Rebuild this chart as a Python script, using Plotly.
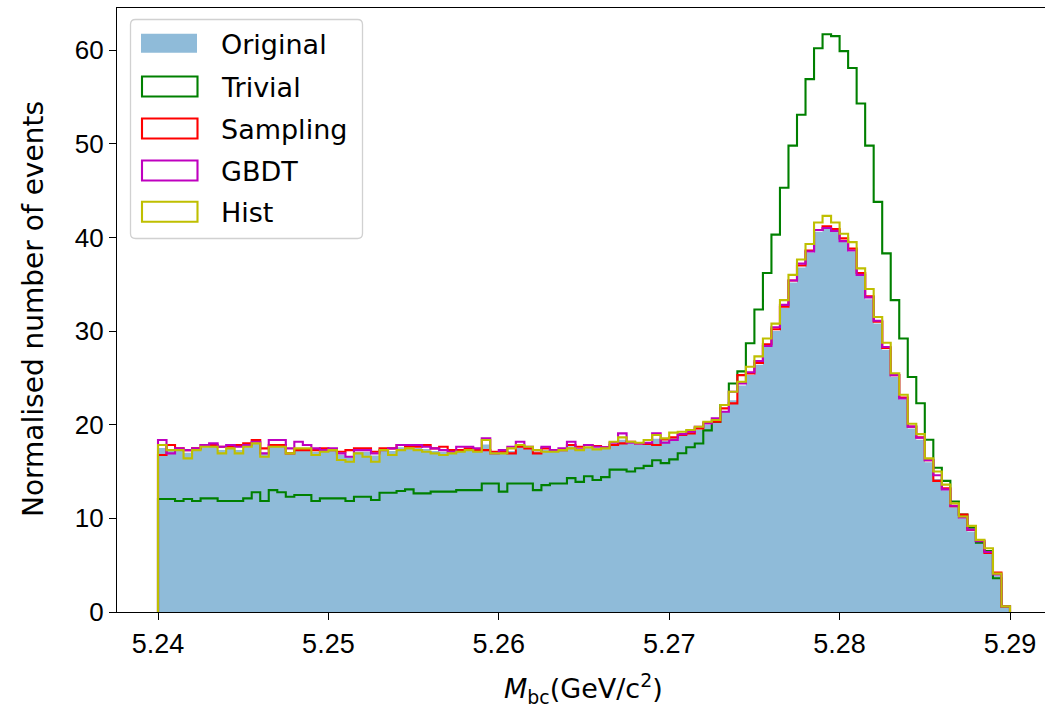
import numpy as np
import plotly.graph_objects as go

# ---------------- data (100 bins, 5.24 - 5.29) ----------------
bin_edges = np.linspace(5.24, 5.29, 101)

original = [
    17.5, 17.3, 17.3, 17.0, 17.3, 17.6, 17.7, 17.3, 17.5, 17.3, 17.6, 18.0, 17.0, 17.8, 17.8, 17.0, 17.5, 17.4, 17.1, 17.2, 17.2, 16.8, 16.6, 17.1,
    17.1, 16.7, 17.2, 17.2, 17.6, 17.5, 17.5, 17.4, 17.2, 17.1, 17.0, 17.2, 17.3, 17.2, 17.9, 16.9, 17.0, 17.2, 17.7, 17.5, 17.1, 17.3, 17.1, 17.2,
    17.7, 17.3, 17.6, 17.5, 17.4, 17.9, 18.4, 18.0, 17.9, 18.0, 18.5, 18.3, 18.6, 18.9, 19.1, 19.5, 20.0, 20.3, 21.4, 22.6, 24.2,
    25.3, 26.4, 28.3, 30.0, 32.5, 35.2, 36.8, 38.4, 40.6, 40.9, 40.6, 39.5, 38.5, 35.9, 33.4, 30.8, 28.0, 25.1, 22.7, 19.6, 18.4, 16.0,
    14.2, 13.0, 11.2, 10.0, 8.6, 7.4, 6.2, 3.9, 0.5,
]

trivial = [
    12.06, 12.06, 11.85, 12.06, 11.85, 12.13, 12.13, 11.85, 11.85, 11.85, 12.13, 12.78, 11.85, 13.02, 12.78, 12.31, 12.49, 12.49, 11.85, 12.13, 12.13, 12.13, 11.85, 12.31,
    12.31, 11.96, 12.74, 12.74, 12.92, 13.1, 12.67, 12.67, 12.85, 12.85, 12.85, 13.02, 13.02, 13.02, 13.73, 13.73, 12.85, 13.73, 13.73, 13.73, 13.02, 13.55, 13.73, 13.73,
    14.3, 13.9, 14.5, 14.1, 14.4, 15.2, 15.2, 15.0, 15.35, 15.6, 16.2, 15.9, 16.3, 16.95, 17.6, 18.0, 19.4, 20.3, 22.1, 24.4, 25.7,
    28.7, 32.3, 36.2, 40.3, 45.3, 49.8, 53.1, 56.9, 60.2, 61.7, 61.5, 59.9, 58.1, 54.3, 49.8, 43.8, 38.3, 33.3, 29.2, 25.1, 22.3, 18.4,
    15.4, 14.0, 11.8, 10.4, 9.0, 7.4, 6.5, 3.6, 0.6,
]

sampling = [
    16.76, 17.83, 17.47, 17.29, 17.47, 17.83, 17.83, 17.65, 17.65, 17.83, 18.01, 18.36, 17.47, 17.83, 17.83, 16.94, 17.29, 17.29, 17.29, 17.47, 17.29, 17.12, 17.29, 17.47,
    17.47, 17.12, 17.47, 17.47, 17.83, 17.65, 17.65, 17.83, 17.47, 17.65, 17.29, 17.29, 17.47, 17.29, 17.29, 17.12, 17.12, 16.94, 17.65, 17.47, 16.94, 17.47, 17.29, 17.29,
    17.83, 17.65, 17.83, 17.72, 17.58, 17.83, 18.01, 18.18, 18.01, 17.94, 17.83, 18.43, 18.65, 18.9, 19.07, 19.61, 20.21, 20.32, 21.74, 22.28, 25.3,
    25.48, 26.6, 28.6, 30.2, 32.6, 35.4, 37.0, 38.6, 40.8, 41.2, 40.9, 39.9, 38.8, 36.2, 33.7, 31.0, 28.2, 25.3, 22.9, 19.8, 18.65, 16.2,
    14.0, 13.2, 11.3, 10.4, 8.75, 7.6, 6.3, 4.2, 0.6,
]

gbdt = [
    18.36, 16.94, 17.47, 17.29, 17.47, 17.83, 18.01, 17.65, 17.83, 17.65, 17.83, 18.18, 16.94, 18.36, 18.36, 17.47, 18.18, 17.83, 17.47, 17.29, 17.47, 16.94, 16.58, 17.29,
    17.29, 16.94, 17.29, 17.47, 17.83, 17.83, 17.83, 17.65, 17.47, 17.29, 17.12, 17.65, 17.65, 17.47, 18.54, 16.94, 17.29, 17.65, 18.18, 17.65, 17.29, 17.65, 17.29, 17.47,
    18.18, 17.37, 17.83, 17.65, 17.58, 18.08, 19.07, 18.08, 18.01, 18.08, 19.07, 18.08, 18.36, 19.0, 19.25, 19.79, 20.14, 20.68, 21.39, 23.52, 24.41,
    25.6, 26.8, 28.4, 30.4, 32.8, 35.4, 37.2, 38.5, 40.8, 41.0, 40.7, 39.6, 38.6, 36.0, 33.6, 31.1, 28.3, 25.3, 22.8, 19.8, 18.6, 16.2,
    14.6, 13.1, 11.35, 10.1, 8.8, 7.55, 6.4, 4.0, 0.6,
]

hist = [
    17.83, 17.29, 17.29, 16.41, 17.29, 17.65, 17.65, 16.94, 17.47, 16.94, 17.65, 18.01, 16.58, 17.65, 17.65, 16.94, 17.47, 17.47, 16.76, 17.12, 17.29, 16.23, 16.05, 16.94,
    16.58, 16.05, 17.29, 16.76, 17.29, 17.47, 17.29, 17.12, 16.94, 16.76, 16.94, 17.12, 17.29, 17.12, 18.36, 16.94, 16.94, 17.47, 17.83, 17.65, 17.29, 17.12, 17.12, 17.29,
    17.47, 17.29, 17.58, 17.37, 17.47, 18.18, 18.65, 18.18, 18.08, 18.36, 18.9, 18.54, 19.15, 19.25, 19.43, 19.79, 20.32, 20.5, 22.1, 23.52, 24.59,
    26.19, 27.3, 29.2, 30.8, 33.3, 36.0, 37.65, 39.3, 41.6, 42.3, 41.6, 40.4, 39.5, 36.7, 34.5, 31.5, 28.75, 25.5, 23.2, 20.1, 19.0, 16.4,
    15.0, 13.6, 11.6, 10.2, 9.2, 7.7, 6.8, 4.1, 0.6,
]

labels = ["Original", "Trivial", "Sampling", "GBDT", "Hist"]
x_ticks = [5.24, 5.25, 5.26, 5.27, 5.28, 5.29]
x_ticktext = ["5.24", "5.25", "5.26", "5.27", "5.28", "5.29"]
y_ticks = [0, 10, 20, 30, 40, 50, 60]

for arr in (original, trivial, sampling, gbdt, hist):
    assert len(arr) == 100

# ---------------- styling ----------------
W, H = 1045, 708
ML, MR, MT, MB = 117, 0, 8, 96
PW, PH = W - ML - MR, H - MT - MB
X0_PX, X1_PX = 158.0, 1010.0          # pixel position of 5.24 and 5.29
scale = (X1_PX - X0_PX) / 0.05
x_range = [5.24 - (X0_PX - ML) / scale, 5.24 + (W - MR - X0_PX) / scale]
y_range = [0, 64.5]

FILL = "rgba(31,119,180,0.5)"
COLORS = {"Trivial": "#008000", "Sampling": "#ff0000", "GBDT": "#bf00bf", "Hist": "#bfbf00"}
LW = 2.1
TXT = "DejaVu Sans, Liberation Sans, sans-serif"
TICKFONT = "Liberation Sans, Arial, sans-serif"


def px2x(p):
    return (p - ML) / PW


def px2y(p):
    return (H - MB - p) / PH


fig = go.Figure()

# filled original histogram
fig.add_trace(go.Scatter(
    x=list(bin_edges), y=list(original) + [original[-1]],
    mode="lines", line=dict(shape="hv", width=0, color=FILL),
    fill="tozeroy", fillcolor=FILL, showlegend=False, hoverinfo="skip",
))

# step outlines
for name, vals in (("Trivial", trivial), ("Sampling", sampling), ("GBDT", gbdt), ("Hist", hist)):
    xs = [bin_edges[0]] + list(bin_edges[:-1]) + [bin_edges[-1]]
    ys = [0] + list(vals) + [0]
    fig.add_trace(go.Scatter(
        x=xs, y=ys, mode="lines",
        line=dict(shape="hv", width=LW, color=COLORS[name]),
        showlegend=False, name=name,
    ))

# ---------------- custom matplotlib-like legend ----------------
shapes = []
bx0, bx1, by0, by1, r = 130.5, 362.5, 19.5, 238.5, 5.0


def P(xp, yp):
    return f"{px2x(xp):.6f},{px2y(yp):.6f}"


path = (f"M {P(bx0 + r, by0)} L {P(bx1 - r, by0)} Q {P(bx1, by0)} {P(bx1, by0 + r)} "
        f"L {P(bx1, by1 - r)} Q {P(bx1, by1)} {P(bx1 - r, by1)} "
        f"L {P(bx0 + r, by1)} Q {P(bx0, by1)} {P(bx0, by1 - r)} "
        f"L {P(bx0, by0 + r)} Q {P(bx0, by0)} {P(bx0 + r, by0)} Z")
shapes.append(dict(type="path", path=path, xref="paper", yref="paper",
                   line=dict(color="rgba(204,204,204,0.9)", width=1.3),
                   fillcolor="rgba(255,255,255,0.8)", layer="above"))

centers = [43.3, 86.5, 128.5, 170.5, 211.8]
annotations = []
for i, name in enumerate(labels):
    cy = centers[i]
    if name == "Original":
        shapes.append(dict(type="rect", xref="paper", yref="paper",
                           x0=px2x(141), x1=px2x(197), y0=px2y(cy - 9.5), y1=px2y(cy + 9.5),
                           line=dict(width=0), fillcolor=FILL, layer="above"))
    else:
        shapes.append(dict(type="rect", xref="paper", yref="paper",
                           x0=px2x(142), x1=px2x(197.5), y0=px2y(cy - 10), y1=px2y(cy + 10),
                           line=dict(width=LW, color=COLORS[name]), fillcolor="rgba(0,0,0,0)",
                           layer="above"))
    annotations.append(dict(text=name, xref="paper", yref="paper", x=px2x(219), y=px2y(cy + 1),
                            xanchor="left", yanchor="middle", showarrow=False,
                            font=dict(family=TXT, size=27, color="#000000")))

# axis titles
annotations.append(dict(text="<i>M</i><sub>bc</sub>(GeV/c<sup>2</sup>)", xref="paper", yref="paper",
                        x=px2x(583), y=px2y(688), xanchor="center", yanchor="middle",
                        showarrow=False, font=dict(family=TXT, size=27, color="#000000")))
annotations.append(dict(text="Normalised number of events", xref="paper", yref="paper",
                        x=px2x(33), y=px2y(309), xanchor="center", yanchor="middle",
                        textangle=-90, showarrow=False,
                        font=dict(family=TXT, size=28, color="#000000")))

fig.update_layout(
    width=W, height=H,
    margin=dict(l=ML, r=MR, t=MT, b=MB, pad=0),
    paper_bgcolor="white", plot_bgcolor="white",
    showlegend=False,
    shapes=shapes, annotations=annotations,
    xaxis=dict(range=x_range, tickvals=x_ticks, ticktext=x_ticktext,
               ticks="outside", ticklen=7, tickwidth=1.3, tickcolor="black",
               showline=True, linecolor="black", linewidth=1.3, mirror=True,
               showgrid=False, zeroline=False,
               tickfont=dict(family=TICKFONT, size=27, color="black")),
    yaxis=dict(range=y_range, tickvals=y_ticks,
               ticks="outside", ticklen=7, tickwidth=1.3, tickcolor="black",
               showline=True, linecolor="black", linewidth=1.3, mirror=False,
               showgrid=False, zeroline=False,
               tickfont=dict(family=TICKFONT, size=26, color="black")),
)

fig.write_html("out.html")
